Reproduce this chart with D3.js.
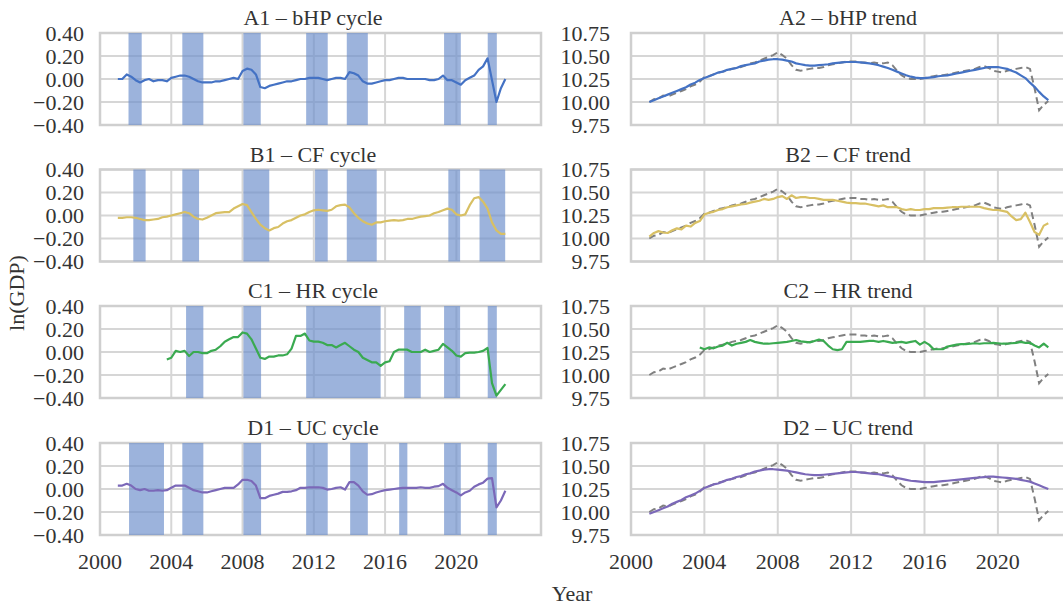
<!DOCTYPE html>
<html lang="en">
<head>
<meta charset="UTF-8">
<title>Cycle and trend of ln(GDP)</title>
<style>
  body { margin: 0; background: #fff; }
  text { font-family: "Liberation Serif", "Times New Roman", serif; fill: #333; }
</style>
</head>
<body>
<div id="chart"></div>
<script src="https://d3js.org/d3.v7.min.js"></script>
<script>
// quarterly dates, 2001Q1 .. 2022Q4
const quarters = d3.range(88).map(i => 2001 + i * 0.25);

const xTicks = [2000, 2004, 2008, 2012, 2016, 2020];
const cycleTicks = [0.4, 0.2, 0, -0.2, -0.4];
const trendTicks = [10.75, 10.5, 10.25, 10, 9.75];

const cycleTitles = ["A1 \u2013 bHP cycle", "B1 \u2013 CF cycle", "C1 \u2013 HR cycle", "D1 \u2013 UC cycle"];
const trendTitles = ["A2 \u2013 bHP trend", "B2 \u2013 CF trend", "C2 \u2013 HR trend", "D2 \u2013 UC trend"];

// cycle components
const bhpCycle = [0.00, 0.00, 0.04, 0.02, -0.01, -0.03, -0.01, 0.00, -0.02, -0.01,
  -0.01, -0.02, 0.01, 0.02, 0.03, 0.03, 0.02, 0.00, -0.02, -0.03,
  -0.03, -0.03, -0.02, -0.02, -0.01, 0.00, 0.01, 0.00, 0.07, 0.09,
  0.08, 0.04, -0.07, -0.08, -0.06, -0.05, -0.04, -0.03, -0.02, -0.02,
  -0.01, 0.00, 0.00, 0.01, 0.01, 0.01, 0.00, -0.01, 0.00, 0.01,
  0.01, 0.00, 0.06, 0.05, 0.03, -0.02, -0.04, -0.04, -0.03, -0.02,
  -0.01, -0.01, 0.00, 0.01, 0.01, 0.00, 0.00, 0.00, 0.00, 0.00,
  -0.01, -0.01, 0.00, 0.03, -0.01, -0.01, -0.03, -0.05, -0.01, 0.01,
  0.03, 0.08, 0.11, 0.18, -0.01, -0.20, -0.08, 0.00];

const cfCycle = [-0.02, -0.02, -0.015, -0.015, -0.02, -0.03, -0.04, -0.04, -0.035, -0.03,
  -0.015, -0.01, 0.00, 0.01, 0.02, 0.03, 0.02, -0.01, -0.03, -0.035,
  -0.02, 0.00, 0.02, 0.025, 0.03, 0.03, 0.06, 0.08, 0.10, 0.09,
  0.03, -0.03, -0.08, -0.11, -0.13, -0.11, -0.10, -0.07, -0.05, -0.04,
  -0.02, 0.00, 0.01, 0.03, 0.045, 0.05, 0.045, 0.04, 0.05, 0.08,
  0.09, 0.095, 0.07, 0.02, -0.02, -0.05, -0.07, -0.08, -0.06, -0.06,
  -0.05, -0.045, -0.04, -0.045, -0.04, -0.03, -0.03, -0.02, -0.01, -0.005,
  0.00, 0.02, 0.03, 0.045, 0.06, 0.05, 0.01, 0.00, 0.01, 0.09,
  0.15, 0.16, 0.12, 0.06, -0.06, -0.13, -0.16, -0.16];

// HR series start in 2003Q4
const hrStart = 11;
const hrCycle = [-0.065,
  -0.05, 0.01, 0.00, 0.01, -0.035, 0.00, 0.00, -0.01, -0.01, 0.01,
  0.02, 0.05, 0.09, 0.11, 0.13, 0.13, 0.17, 0.16, 0.11, 0.03,
  -0.05, -0.06, -0.04, -0.04, -0.03, -0.03, -0.02, 0.03, 0.14, 0.14,
  0.16, 0.10, 0.09, 0.09, 0.08, 0.06, 0.06, 0.04, 0.06, 0.08,
  0.05, 0.02, 0.00, -0.05, -0.07, -0.09, -0.09, -0.12, -0.09, -0.08,
  0.00, 0.02, 0.02, 0.02, 0.00, 0.00, 0.00, 0.02, 0.00, 0.01,
  0.02, 0.07, 0.04, 0.01, -0.03, -0.04, -0.01, -0.005, -0.005, 0.00,
  0.01, 0.035, -0.27, -0.38, -0.33, -0.28];

const ucCycle = [0.03, 0.03, 0.045, 0.03, 0.00, -0.01, 0.00, -0.015, -0.015, -0.01,
  -0.015, -0.01, 0.01, 0.03, 0.03, 0.03, 0.01, -0.01, -0.02, -0.03,
  -0.03, -0.02, -0.01, 0.00, 0.01, 0.01, 0.01, 0.04, 0.08, 0.08,
  0.07, 0.03, -0.08, -0.08, -0.06, -0.05, -0.04, -0.025, -0.025, -0.02,
  -0.01, 0.01, 0.01, 0.015, 0.015, 0.015, 0.01, -0.005, 0.00, 0.01,
  0.015, -0.005, 0.06, 0.06, 0.03, -0.02, -0.05, -0.045, -0.03, -0.02,
  -0.01, -0.005, 0.00, 0.005, 0.01, 0.01, 0.01, 0.01, 0.015, 0.01,
  0.01, 0.02, 0.025, 0.045, 0.01, -0.01, -0.03, -0.055, -0.03, -0.015,
  0.02, 0.04, 0.055, 0.09, 0.095, -0.16, -0.10, -0.015];

// observed ln(GDP), dashed in every trend panel
const gdp = [10.00, 10.03, 10.04, 10.07, 10.06, 10.08, 10.10, 10.12, 10.14, 10.17,
  10.19, 10.22, 10.27, 10.28, 10.30, 10.32, 10.33, 10.34, 10.36, 10.37,
  10.38, 10.40, 10.42, 10.43, 10.45, 10.47, 10.49, 10.51, 10.54, 10.51,
  10.47, 10.40, 10.35, 10.34, 10.35, 10.36, 10.37, 10.37, 10.38, 10.40,
  10.41, 10.42, 10.43, 10.44, 10.44, 10.44, 10.43, 10.43, 10.42, 10.43,
  10.42, 10.42, 10.43, 10.40, 10.34, 10.29, 10.26, 10.25, 10.25, 10.25,
  10.26, 10.27, 10.28, 10.29, 10.29, 10.30, 10.31, 10.32, 10.33, 10.34,
  10.35, 10.36, 10.38, 10.39, 10.37, 10.34, 10.33, 10.32, 10.34, 10.35,
  10.36, 10.37, 10.38, 10.36, 10.15, 9.91, 9.97, 10.01];

// trend components
const bhpTrend = [10.00, 10.02, 10.04, 10.06, 10.08, 10.10, 10.12, 10.14, 10.16, 10.19,
  10.21, 10.24, 10.26, 10.28, 10.30, 10.32, 10.33, 10.35, 10.36, 10.37,
  10.39, 10.40, 10.41, 10.42, 10.44, 10.45, 10.46, 10.465, 10.465, 10.46,
  10.45, 10.44, 10.42, 10.41, 10.40, 10.395, 10.395, 10.40, 10.405, 10.41,
  10.42, 10.425, 10.43, 10.435, 10.435, 10.435, 10.43, 10.425, 10.42, 10.41,
  10.40, 10.385, 10.37, 10.35, 10.33, 10.31, 10.29, 10.275, 10.265, 10.26,
  10.26, 10.265, 10.27, 10.28, 10.285, 10.29, 10.30, 10.31, 10.32, 10.33,
  10.34, 10.35, 10.36, 10.37, 10.38, 10.38, 10.38, 10.37, 10.36, 10.34,
  10.32, 10.29, 10.26, 10.21, 10.165, 10.11, 10.06, 10.02];

const cfTrend = [10.02, 10.06, 10.08, 10.065, 10.06, 10.09, 10.11, 10.10, 10.14, 10.13,
  10.17, 10.19, 10.26, 10.28, 10.29, 10.31, 10.32, 10.34, 10.35, 10.36,
  10.37, 10.375, 10.39, 10.40, 10.41, 10.43, 10.42, 10.43, 10.45, 10.46,
  10.43, 10.47, 10.44, 10.45, 10.45, 10.44, 10.44, 10.43, 10.42, 10.42,
  10.42, 10.41, 10.40, 10.39, 10.385, 10.385, 10.38, 10.38, 10.37, 10.36,
  10.35, 10.36, 10.34, 10.34, 10.34, 10.32, 10.31, 10.32, 10.31, 10.31,
  10.32, 10.32, 10.33, 10.33, 10.33, 10.335, 10.34, 10.34, 10.345, 10.345,
  10.345, 10.345, 10.345, 10.33, 10.32, 10.31, 10.31, 10.30, 10.29, 10.24,
  10.20, 10.21, 10.28, 10.18, 10.07, 10.04, 10.14, 10.165];

const hrTrend = [10.30,
  10.28, 10.30, 10.29, 10.31, 10.32, 10.35, 10.32, 10.34, 10.35, 10.36,
  10.38, 10.36, 10.35, 10.34, 10.34, 10.345, 10.35, 10.355, 10.36, 10.37,
  10.38, 10.365, 10.36, 10.355, 10.37, 10.385, 10.37, 10.32, 10.28, 10.27,
  10.28, 10.36, 10.36, 10.36, 10.36, 10.365, 10.37, 10.37, 10.36, 10.37,
  10.36, 10.35, 10.355, 10.36, 10.35, 10.36, 10.37, 10.33, 10.36, 10.33,
  10.28, 10.28, 10.28, 10.31, 10.32, 10.33, 10.335, 10.335, 10.34, 10.345,
  10.34, 10.345, 10.345, 10.35, 10.345, 10.34, 10.34, 10.345, 10.35, 10.36,
  10.35, 10.35, 10.32, 10.30, 10.34, 10.30];

const ucTrend = [9.98, 10.00, 10.02, 10.04, 10.06, 10.09, 10.11, 10.13, 10.16, 10.18,
  10.20, 10.23, 10.26, 10.28, 10.30, 10.31, 10.33, 10.35, 10.36, 10.38,
  10.39, 10.41, 10.42, 10.44, 10.45, 10.46, 10.465, 10.465, 10.46, 10.455,
  10.45, 10.44, 10.43, 10.42, 10.41, 10.405, 10.40, 10.40, 10.405, 10.41,
  10.415, 10.42, 10.425, 10.43, 10.435, 10.435, 10.43, 10.425, 10.42, 10.415,
  10.41, 10.40, 10.39, 10.38, 10.37, 10.36, 10.35, 10.34, 10.335, 10.33,
  10.325, 10.325, 10.325, 10.33, 10.335, 10.34, 10.345, 10.35, 10.355, 10.36,
  10.365, 10.37, 10.375, 10.38, 10.385, 10.385, 10.38, 10.375, 10.37, 10.365,
  10.36, 10.35, 10.34, 10.33, 10.31, 10.29, 10.27, 10.25];

// shaded periods [from, to] in each cycle panel
const bhpBands = [[2001.6, 2002.34], [2004.62, 2005.8], [2008.05, 2009.02], [2011.57, 2012.78], [2013.85, 2015.03], [2019.31, 2020.25], [2021.76, 2022.27]];
const cfBands = [[2001.87, 2002.56], [2004.62, 2005.56], [2008.05, 2009.5], [2012.07, 2012.78], [2013.85, 2015.53], [2019.55, 2020.21], [2021.3, 2022.74]];
const hrBands = [[2004.83, 2005.8], [2008.05, 2009.04], [2011.57, 2015.75], [2017.07, 2018.0], [2019.31, 2020.21], [2021.76, 2022.27]];
const ucBands = [[2001.63, 2003.59], [2004.62, 2005.8], [2008.05, 2009.04], [2011.57, 2012.78], [2014.04, 2015.03], [2016.79, 2017.25], [2019.31, 2020.25], [2021.76, 2022.27]];

const lineColors = ["#4472c4", "#d8c064", "#3aaa50", "#7b68b8"];

const rows = [
  {cycle: bhpCycle, trend: bhpTrend, bands: bhpBands, start: 0},
  {cycle: cfCycle, trend: cfTrend, bands: cfBands, start: 0},
  {cycle: hrCycle, trend: hrTrend, bands: hrBands, start: hrStart},
  {cycle: ucCycle, trend: ucTrend, bands: ucBands, start: 0}
];

const W = 1063, H = 607;
const rowTops = [33, 169.5, 306, 443];
const ph = 92;

const svg = d3.select("#chart").append("svg")
  .attr("width", W).attr("height", H);

const xLeft = d3.scaleLinear().domain([2000, 2024.75]).range([100, 541]);
const xRight = d3.scaleLinear().domain([2000, 2024.75]).range([631, 1085]);

function panel(x, top, domain, ticks, fmt, title, titleX, labelX, showX) {
  const y = d3.scaleLinear().domain(domain).range([top + ph, top]);
  const g = svg.append("g");
  const [x0, x1] = x.range();
  // grid
  g.selectAll(".hg").data(ticks).enter().append("line")
    .attr("x1", x0).attr("x2", x1)
    .attr("y1", d => y(d)).attr("y2", d => y(d))
    .attr("stroke", "#d6d6d6").attr("stroke-width", 2);
  g.selectAll(".vg").data(xTicks).enter().append("line")
    .attr("x1", d => x(d)).attr("x2", d => x(d))
    .attr("y1", top).attr("y2", top + ph)
    .attr("stroke", "#d6d6d6").attr("stroke-width", 2);
  g.append("rect")
    .attr("x", x0).attr("y", top).attr("width", x1 - x0).attr("height", ph)
    .attr("fill", "none").attr("stroke", "#cfcfcf").attr("stroke-width", 2.5);
  // y tick labels
  g.selectAll(".yl").data(ticks).enter().append("text")
    .attr("x", labelX).attr("y", d => y(d))
    .attr("dy", "0.35em").attr("text-anchor", "end")
    .style("font-size", "22px")
    .text(fmt);
  if (showX) {
    g.selectAll(".xl").data(xTicks).enter().append("text")
      .attr("x", d => x(d)).attr("y", top + ph + 26)
      .attr("dy", "0.35em").attr("text-anchor", "middle")
      .style("font-size", "22px")
      .text(d => d);
  }
  g.append("text")
    .attr("x", titleX).attr("y", top - 8)
    .attr("text-anchor", "middle")
    .style("font-size", "22px")
    .text(title);
  return {g, y};
}

const fmt2 = d3.format(".2f");

rows.forEach((r, k) => {
  const top = rowTops[k];
  const last = k === rows.length - 1;
  const dates = quarters.slice(r.start);

  // cycle panel
  const c = panel(xLeft, top, [-0.4, 0.4], cycleTicks, fmt2, cycleTitles[k], 313, 84, last);
  c.g.selectAll(".band").data(r.bands).enter().append("rect")
    .attr("x", d => xLeft(d[0])).attr("width", d => xLeft(d[1]) - xLeft(d[0]))
    .attr("y", top).attr("height", ph)
    .attr("fill", "#6d8fcc").attr("fill-opacity", 0.68);
  const cLine = d3.line().x((d, i) => xLeft(dates[i])).y(d => c.y(d));
  c.g.append("path").datum(r.cycle)
    .attr("d", cLine).attr("fill", "none")
    .attr("stroke", lineColors[k]).attr("stroke-width", 2.2)
    .attr("stroke-linejoin", "round");

  // trend panel
  const t = panel(xRight, top, [9.75, 10.75], trendTicks, fmt2, trendTitles[k], 848, 610, last);
  const gLine = d3.line().x((d, i) => xRight(quarters[i])).y(d => t.y(d));
  t.g.append("path").datum(gdp)
    .attr("d", gLine).attr("fill", "none")
    .attr("stroke", "#808080").attr("stroke-width", 2)
    .attr("stroke-dasharray", "7,4");
  const tLine = d3.line().x((d, i) => xRight(dates[i])).y(d => t.y(d));
  t.g.append("path").datum(r.trend)
    .attr("d", tLine).attr("fill", "none")
    .attr("stroke", lineColors[k]).attr("stroke-width", 2.2)
    .attr("stroke-linejoin", "round");
});

// axis titles
svg.append("text")
  .attr("transform", "translate(24,293) rotate(-90)")
  .attr("text-anchor", "middle")
  .style("font-size", "22px")
  .text("ln(GDP)");

svg.append("text")
  .attr("x", 572).attr("y", 593)
  .attr("dy", "0.35em")
  .attr("text-anchor", "middle")
  .style("font-size", "22px")
  .text("Year");
</script>
</body>
</html>
